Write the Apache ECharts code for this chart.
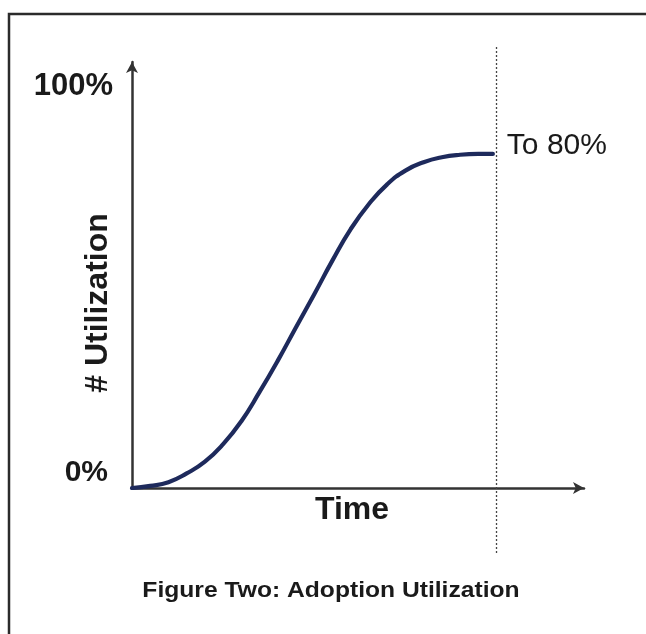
<!DOCTYPE html>
<html><head><meta charset="utf-8">
<script src="https://cdn.jsdelivr.net/npm/echarts@6/dist/echarts.min.js"></script>
<style>html,body{margin:0;padding:0;background:#fff}#c{width:646px;height:634px}</style>
</head><body><div id="c"></div>
<script>
// ---- data ----
const timeValues  = [0, 5, 10, 15, 20, 25, 30, 35, 40, 45, 50, 55, 60, 65, 70, 75, 80, 85, 90, 95, 99];
const utilization = [0, 0.5, 1.4, 3.5, 6.3, 10.5, 16, 23, 30.5, 38.5, 46.4, 54.5, 62, 68, 72.7, 76, 78, 79.2, 79.8, 80, 80];
const yTickValues = [0, 100];
const yTickLabels = ['0%', '100%'];
const cutoffTime  = [100];
const xAxisName   = 'Time';
const yAxisName   = '# Utilization';
const endLabel    = 'To 80%';
const captionText = 'Figure Two: Adoption Utilization';

const FONT = '"Liberation Sans", Arial, sans-serif';
const chart = echarts.init(document.getElementById('c'), null, {renderer: 'canvas'});

const axisLine = {
  show: true,
  symbol: ['none', 'arrow'],
  symbolSize: [9, 11],
  lineStyle: {color: '#333', width: 2.5}
};

chart.setOption({
  backgroundColor: '#fff',
  animation: false,
  grid: {left: 132, right: 62, top: 62, bottom: 146},
  xAxis: {
    type: 'value', min: 0, max: 124,
    axisLine: axisLine, axisTick: {show: false}, axisLabel: {show: false}, splitLine: {show: false}
  },
  yAxis: {
    type: 'value', min: 0, max: 102,
    axisLine: axisLine, axisTick: {show: false}, axisLabel: {show: false}, splitLine: {show: false}
  },
  series: [{
    type: 'line',
    data: timeValues.map((t, i) => [t, utilization[i]]),
    smooth: 0.5,
    symbol: 'none',
    lineStyle: {color: '#1e2a5c', width: 4.2, cap: 'round', join: 'round'},
    z: 3
  }]
});

const cutX = chart.convertToPixel({xAxisIndex: 0}, cutoffTime[0]);
const endPt = chart.convertToPixel({seriesIndex: 0}, [timeValues[timeValues.length - 1], utilization[utilization.length - 1]]);
const y100 = chart.convertToPixel({yAxisIndex: 0}, yTickValues[1]);
const y0 = chart.convertToPixel({yAxisIndex: 0}, yTickValues[0]);

function txt(text, x, y, size, weight, align, extra) {
  return Object.assign({
    type: 'text', x: x, y: y,
    style: {text: text, font: weight + ' ' + size + 'px ' + FONT, fill: '#1a1a1a',
            textAlign: align, textVerticalAlign: 'middle'}
  }, extra || {});
}

chart.setOption({
  graphic: [
    {type: 'rect', shape: {x: 9, y: 14, width: 700, height: 700},
     style: {fill: 'none', stroke: '#2b2b2b', lineWidth: 2.5}, z: 10},
    {type: 'line', shape: {x1: cutX, y1: 47, x2: cutX, y2: 555},
     style: {stroke: '#444', lineWidth: 1.3, lineDash: [2, 2]}, z: 1},
    txt(yTickLabels[1], 113, y100 + 16, 31, 'bold', 'right'),
    txt(yTickLabels[0], 108, y0 - 15, 30, 'bold', 'right'),
    txt(yAxisName, 98, 303, 32, 'bold', 'center', {rotation: Math.PI / 2}),
    txt(xAxisName, 352, 510, 32, 'bold', 'center'),
    txt(endLabel, endPt[0] + 14, endPt[1] - 8, 30, 'normal', 'left'),
    txt(captionText, 331, 591, 22, 'bold', 'center', {scaleX: 1.12})
  ]
});
</script>
</body></html>
